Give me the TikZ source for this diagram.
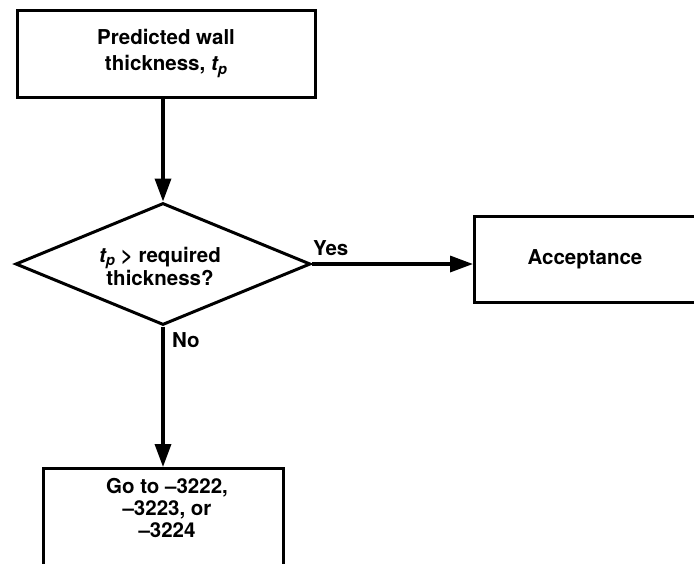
\documentclass[tikz,border=0pt]{standalone}
\usepackage{fontspec}
\setmainfont{TeX Gyre Heros}
\usetikzlibrary{shapes.geometric,arrows.meta}
\tikzset{
  boxline/.style={draw=black, line width=3pt, inner sep=0pt},
  lbl/.style={font=\bfseries\fontsize{20.5}{22}\selectfont, align=center, inner sep=0pt},
  flow/.style={line width=3.4pt, -{Triangle[length=23pt,width=16pt]}},
}
\newcommand{\tpsub}{{\itshape t}\raisebox{-0.35ex}{\fontsize{15}{15}\selectfont\itshape p}}
\begin{document}
\begin{tikzpicture}[x=1pt,y=-1pt]
\useasboundingbox (0,0) rectangle (694,563);
\clip (0,0) rectangle (694,563);
% top box
\node[boxline, lbl, minimum width=298pt, minimum height=87pt, font=\bfseries\fontsize{20.5}{26}\selectfont] (pred) at (166,53.5) {Predicted wall\\thickness, \tpsub};
% decision
\node[boxline, lbl, diamond, minimum width=295pt, minimum height=122pt] (dec) at (163,264) {};
\node[lbl, font=\bfseries\fontsize{20.5}{23}\selectfont] (dectext) at (160,266) {\tpsub\ > required\\thickness?};
% acceptance
\node[boxline, lbl, minimum width=260pt, minimum height=86pt, anchor=west] (acc) at (473,259) {};
\node[lbl] (acctext) at (585,259) {Acceptance};
% go to box
\node[boxline, minimum width=240pt, minimum height=140pt, anchor=north] (go) at (163,467) {};
\node[lbl, font=\bfseries\fontsize{20.5}{22}\selectfont] (gotext) at (167,508) {Go to \textendash3222,\\\textendash3223, or\\\textendash3224};
% connectors
\draw[flow] (pred.south -| dec.north) -- (dec.north);
\draw[flow] (dec.east) -- (dec.east -| acc.west);
\draw[flow] (dec.south) -- (go.north);
% labels
\node[lbl, anchor=base west] (yes) at (313,255) {Yes};
\node[lbl, anchor=base west] (no) at (172,347) {No};
\end{tikzpicture}
\end{document}
